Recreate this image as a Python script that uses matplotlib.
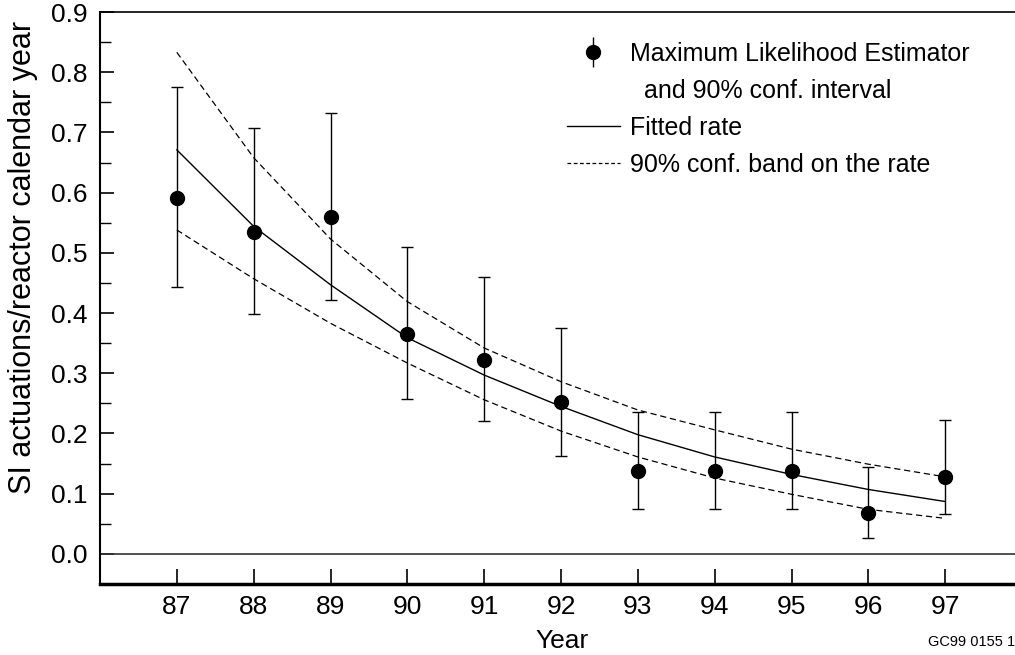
import matplotlib
matplotlib.use("Agg")
import matplotlib.pyplot as plt
from matplotlib.lines import Line2D
from matplotlib.container import ErrorbarContainer
from matplotlib.legend_handler import HandlerErrorbar

plt.rcParams['font.family'] = ['Liberation Sans', 'DejaVu Sans']

# Data
years = [87, 88, 89, 90, 91, 92, 93, 94, 95, 96, 97]
mle = [0.591, 0.535, 0.560, 0.366, 0.322, 0.253, 0.138, 0.138, 0.138, 0.068, 0.128]
ci_upper = [0.776, 0.708, 0.733, 0.509, 0.460, 0.375, 0.236, 0.236, 0.236, 0.145, 0.223]
ci_lower = [0.444, 0.398, 0.422, 0.257, 0.221, 0.163, 0.075, 0.075, 0.075, 0.027, 0.066]
fitted = [0.671, 0.544, 0.447, 0.359, 0.297, 0.245, 0.198, 0.161, 0.132, 0.107, 0.087]
band_upper = [0.833, 0.658, 0.523, 0.419, 0.342, 0.286, 0.239, 0.206, 0.174, 0.149, 0.128]
band_lower = [0.538, 0.457, 0.383, 0.317, 0.256, 0.204, 0.161, 0.126, 0.099, 0.074, 0.059]

err_lo = [m - l for m, l in zip(mle, ci_lower)]
err_hi = [u - m for m, u in zip(mle, ci_upper)]

fig = plt.figure(figsize=(10.15, 6.55), dpi=100)
W, H = 1015, 655
ax = fig.add_axes([100 / W, (H - 584) / H, 922 / W, 572 / H])

ax.errorbar(years, mle, yerr=[err_lo, err_hi], fmt='o', color='black',
            markersize=10, elinewidth=1, capsize=4, capthick=1, zorder=3)
ax.plot(years, fitted, color='black', linewidth=1)
ax.plot(years, band_upper, color='black', linewidth=0.9, linestyle=(0, (5, 3)))
ax.plot(years, band_lower, color='black', linewidth=0.9, linestyle=(0, (5, 3)))
ax.axhline(0, color='#333333', linewidth=1.2)

ax.set_xlim(86, 98)
ax.set_ylim(-0.05, 0.9)
ax.set_xticks(years)
ax.set_xticklabels([str(y) for y in years])
ax.set_yticks([i / 10 for i in range(10)])
ax.set_yticklabels(['%.1f' % (i / 10) for i in range(10)])
ax.set_yticks([0.05 + i / 10 for i in range(9)], minor=True)

ax.tick_params(axis='y', which='major', direction='in', length=10, width=1.2,
               labelsize=19, pad=9)
ax.tick_params(axis='y', which='minor', direction='in', length=8, width=1)
ax.tick_params(axis='x', direction='in', length=11, width=1.2, labelsize=19, pad=8)

ax.spines['right'].set_visible(False)
ax.spines['top'].set_linewidth(1.2)
ax.spines['left'].set_linewidth(1.5)
ax.spines['bottom'].set_linewidth(2.5)

ax.set_ylabel('SI actuations/reactor calendar year', fontsize=22)
ax.yaxis.set_label_coords(-62 / 922, (584 - 257) / 572)
ax.set_xlabel('Year', fontsize=19)
ax.xaxis.set_label_coords((562 - 100) / 922, -0.078)

# Legend
h_mle = ax.errorbar([], [], yerr=[[0], [0]], fmt='o', color='black',
                    markersize=10, elinewidth=1, capsize=4, capthick=1)
h_blank = Line2D([], [], linestyle='none', marker='none')
h_fit = Line2D([], [], color='black', linewidth=1)
h_band = Line2D([], [], color='black', linewidth=0.9, linestyle=(0, (3, 2)))
fig.legend([h_mle, h_blank, h_fit, h_band],
           ['Maximum Likelihood Estimator', '  and 90% conf. interval',
            'Fitted rate', '90% conf. band on the rate'],
           loc='upper left', bbox_to_anchor=(567 / W, 1 - 42 / H),
           frameon=False, fontsize=18, handlelength=2.1, handletextpad=0.4,
           labelspacing=0.52, borderpad=0, borderaxespad=0,
           handler_map={ErrorbarContainer: HandlerErrorbar(yerr_size=0.6)})

fig.text(928 / W, 1 - 646 / H, 'GC99 0155 1', fontsize=10.5, va='baseline')

fig.savefig('out.png', dpi=100)
